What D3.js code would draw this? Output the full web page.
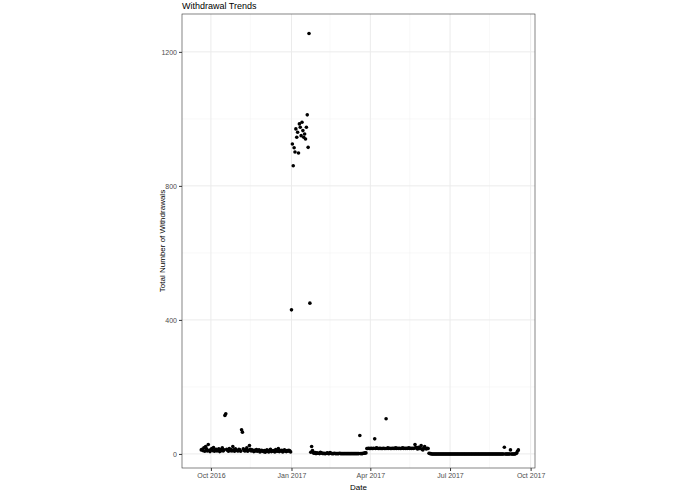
<!DOCTYPE html><html><head><meta charset="utf-8">
<script src="https://cdn.jsdelivr.net/npm/d3@7"></script>
<style>body{margin:0;background:#fff;font-family:"Liberation Sans",Arial,sans-serif}</style></head><body>
<svg id="c" width="695" height="494"></svg>
<script>
const segA_start="2016-09-20";
const segA=[12,14,10,18,8,22,15,9,28,11,7,13,16,10,19,8,12,14,9,11,15,7,13,10,18,9,12,115,120,14,11,8,16,10,13,9,22,12,8,15,11,10,9,14,12,8,72,65,15,10,9,13,18,8,11,25,14,9,12,10,7,11,9,13,8,10,12,6,9,11,8,7,10,5,9,12,8,6,11,14,7,9,8,10,6,13,9,8,16,7,10,9,11,6,8,12,9,7,10,8,11,9,6];
const segB_start="2017-01-01";
const segB=[430,925,860,914,901,970,945,960,898,985,975,950,990,965,945,955,940,975,1012,915,1255,450];
const segC_start="2017-01-23";
const segC=[5,22,10,3,2,4,1,3,2,2,1,5,3,2,1,2,1,1,2,3,1,1,4,2,1,1,1,2,1,1,1,1,1,2,1,1,1,1,1,1,1,1,1,1,1,1,1,1,1,1,1,1,1,1,1,1,55,1,1,1,2,2,3,3];
const segD_start="2017-03-28";
const segD=[16,16,17,16,16,17,16,16,17,45,16,18,17,16,16,17,16,16,16,17,16,16,105,16,18,16,17,16,16,17,16,17,16,18,16,17,16,17,16,16,17,18,16,17,16,17,16,17,18,16,17,16,17,16,17,28,20,16,15,20,16,17,25,14,12,18,22,16,15,17,16,2,1,1];
const segE_start="2017-06-10";
const segE=[0,0,0,0,0,0,0,0,0,0,0,0,0,0,0,0,0,0,0,0,0,0,0,0,0,0,0,0,0,0,0,0,0,0,0,0,0,0,0,0,0,0,0,0,0,0,0,0,0,0,0,0,0,0,0,0,0,0,0,0,0,0,0,0,0,0,0,0,0,0,0,0,0,0,0,0,0,0,0,0,0,0,0,20,0,0,0,0,0,0,12,0,0,0,0,0,1,2,8,12];
const yTicks=[0,400,800,1200];
const xTickDates=["2016-10-01","2017-01-01","2017-04-01","2017-07-01","2017-10-01"];
const xTickLabels=["Oct 2016","Jan 2017","Apr 2017","Jul 2017","Oct 2017"];

const pd=d3.utcParse("%Y-%m-%d");
const data=[];
[[segA_start,segA],[segB_start,segB],[segC_start,segC],[segD_start,segD],[segE_start,segE]].forEach(([s,v])=>{
  const d0=pd(s); v.forEach((y,i)=>data.push({d:d3.utcDay.offset(d0,i),y}));
});
const L=182,R=535,T=14,B=468;
const x=d3.scaleUtc().domain([pd("2016-08-29"),pd("2017-10-06")]).range([L,R]);
const y=d3.scaleLinear().domain([-42,1313]).range([B,T]);
const svg=d3.select("#c");
const g=svg.append("g");
const minorX=["2016-11-15","2017-02-14","2017-05-16","2017-08-15"].map(pd);
g.selectAll(".mx").data(minorX).join("line").attr("x1",d=>x(d)).attr("x2",d=>x(d)).attr("y1",T).attr("y2",B).attr("stroke","#f2f2f2").attr("stroke-width",0.5);
g.selectAll(".my").data([200,600,1000]).join("line").attr("x1",L).attr("x2",R).attr("y1",d=>y(d)).attr("y2",d=>y(d)).attr("stroke","#f2f2f2").attr("stroke-width",0.5);
g.selectAll(".gx").data(xTickDates.map(pd)).join("line").attr("x1",d=>x(d)).attr("x2",d=>x(d)).attr("y1",T).attr("y2",B).attr("stroke","#ebebeb").attr("stroke-width",1);
g.selectAll(".gy").data(yTicks).join("line").attr("x1",L).attr("x2",R).attr("y1",d=>y(d)).attr("y2",d=>y(d)).attr("stroke","#ebebeb").attr("stroke-width",1);
g.selectAll("circle").data(data).join("circle").attr("cx",d=>x(d.d)).attr("cy",d=>y(d.y)).attr("r",1.8).attr("fill","#000");
g.append("rect").attr("x",L).attr("y",T).attr("width",R-L).attr("height",B-T).attr("fill","none").attr("stroke","#333").attr("stroke-width",0.6);
const xa=svg.append("g").attr("transform",`translate(0,${B})`).call(d3.axisBottom(x).tickValues(xTickDates.map(pd)).tickFormat((d,i)=>xTickLabels[i]).tickSize(3).tickPadding(2));
const ya=svg.append("g").attr("transform",`translate(${L},0)`).call(d3.axisLeft(y).tickValues(yTicks).tickFormat(d3.format("d")).tickSize(3).tickPadding(2));
[xa,ya].forEach(a=>{a.select(".domain").remove();a.selectAll("line").attr("stroke","#333");a.selectAll("text").attr("fill","#4d4d4d").style("font-size","7px").style("font-family","Liberation Sans, Arial");});
svg.append("text").attr("x",L).attr("y",9).text("Withdrawal Trends").style("font-size","9px").attr("fill","#000");
svg.append("text").attr("x",(L+R)/2).attr("y",490).attr("text-anchor","middle").text("Date").style("font-size","8px").attr("fill","#000");
svg.append("text").attr("transform",`translate(165,${(T+B)/2}) rotate(-90)`).attr("text-anchor","middle").text("Total Number of Withdrawals").style("font-size","8px").attr("fill","#000");
</script></body></html>
